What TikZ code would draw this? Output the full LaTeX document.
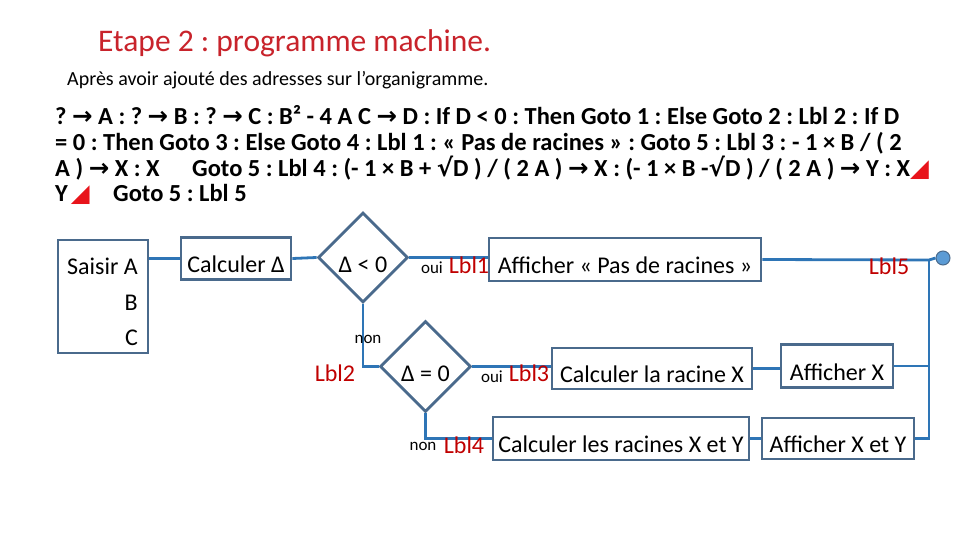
\documentclass[tikz,border=0pt]{standalone}
\usepackage{fontspec}
\setmainfont{Carlito}
\newfontfamily\symf{DejaVu Sans}
\usetikzlibrary{shapes.geometric}
\definecolor{boxc}{HTML}{4A6A8C}
\definecolor{linec}{HTML}{2E75B6}
\definecolor{lblred}{HTML}{C00000}
\definecolor{titred}{HTML}{C8232B}
\definecolor{dotc}{HTML}{5B9BD5}
\definecolor{trired}{HTML}{E8141B}
\newcommand{\myarr}{{\symf\bfseries →}}
\newcommand{\mysqrt}{{\symf √}}
\newcommand{\mytri}{{\symf\color{trired}◢}}
\tikzset{
  flowbox/.style={draw=boxc, line width=2.8pt, rectangle, inner sep=0pt, text height=28pt, text depth=0pt, font=\fontsize{24}{28}\selectfont},
  decision/.style={draw=boxc, line width=2.8pt, diamond, aspect=1, inner sep=0pt, text height=30pt, text depth=0pt, minimum width=90pt, minimum height=90pt, font=\fontsize{24}{28}\selectfont},
  conn/.style={draw=linec, line width=2.8pt},
  lbl/.style={text=lblred, inner sep=0pt, font=\fontsize{24}{28}\selectfont},
  small/.style={inner sep=0pt, font=\fontsize{17}{20}\selectfont},
  plain/.style={inner sep=0pt, font=\fontsize{24}{28}\selectfont},
  prog/.style={inner sep=0pt, anchor=base west, font=\fontsize{24.5}{28}\selectfont\bfseries},
}
\begin{document}
\frenchspacing
\begin{tikzpicture}[x=1pt, y=-1pt]
\useasboundingbox (0,0) rectangle (960,540);
% headings
\node[anchor=base west, inner sep=0pt, text=titred, font=\fontsize{31.5}{36}\selectfont] (title) at (98,52) {Etape 2 : programme machine.};
\node[anchor=base west, inner sep=0pt, font=\fontsize{20}{24}\selectfont] (sub) at (67,86) {Après avoir ajouté des adresses sur l’organigramme.};
% program text
\node[prog] (p1) at (55,125) {? \myarr{} A : ? \myarr{} B : ? \myarr{} C : B² - 4 A C \myarr{} D : If D < 0 : Then Goto 1 : Else Goto 2 : Lbl 2 : If D};
\node[prog] (p2) at (55,150.5) {= 0 : Then Goto 3 : Else Goto 4 : Lbl 1 : « Pas de racines » : Goto 5 : Lbl 3 : - 1 × B / ( 2};
\node[prog] (p3a) at (55,176) {A ) \myarr{} X : X};
\node[prog] (p3b) at (192,176) {Goto 5 : Lbl 4 : (- 1 × B + \mysqrt D ) / ( 2 A ) \myarr{} X : (- 1 × B -\mysqrt D ) / ( 2 A ) \myarr{} Y : X\mytri};
\node[prog] (p4a) at (55,201.5) {Y\hspace{3pt}\mytri};
\node[prog] (p4b) at (113,201.5) {Goto 5 : Lbl 5};
% flowchart boxes
\node[flowbox, minimum width=90pt, minimum height=113pt] (saisir) at (103,296.5) {};
\node[plain, anchor=base west] (tA) at (67,274) {Saisir A};
\node[plain, anchor=base east] (tB) at (138,310) {B};
\node[plain, anchor=base east] (tC) at (138,345) {C};
\node[flowbox, minimum width=110pt, minimum height=42pt] (calc) at (236,258.5) {Calculer Δ};
\node[decision] (d1) at (363,257.5) {Δ < 0};
\node[flowbox, minimum width=272pt, minimum height=43pt] (pas) at (625,259.5) {Afficher « Pas de racines »};
\node[decision, minimum width=91pt, minimum height=91pt] (d2) at (425.5,366.5) {Δ = 0};
\node[flowbox, minimum width=200pt, minimum height=41pt] (racX) at (652,368.5) {Calculer la racine X};
\node[flowbox, minimum width=112pt, minimum height=43pt] (afX) at (837,366) {Afficher X};
\node[flowbox, minimum width=256pt, minimum height=43pt] (racXY) at (621,438.5) {Calculer les racines X et Y};
\node[flowbox, minimum width=152pt, minimum height=41pt] (afXY) at (838,438.5) {Afficher X et Y};
\node[circle, fill=dotc, draw=boxc, line width=1pt, minimum size=14pt, inner sep=0pt] (fin) at (943,258) {};
\coordinate (vx) at (929,260);
% connectors
\draw[conn] (saisir.east |- calc.west) -- (calc.west);
\draw[conn] (calc.east) -- (d1.west);
\draw[conn] (d1.east) -- (d1.east -| pas.west);
\draw[conn] (pas.east) -- (vx) -- (fin.west);
\draw[conn] (d1.south) |- (d2.west);
\draw[conn] (d2.east) -- (d2.east -| racX.west);
\draw[conn] (d2.south) |- (racXY.west);
\draw[conn] (racX.east) -- (racX.east -| afX.west);
\draw[conn] (racXY.east) -- (racXY.east -| afXY.west);
\draw[conn] (afX.east) -- (afX.east -| vx);
\draw[conn] (vx) -- (vx |- afXY.east) -- (afXY.east);
% labels
\node[small] (oui1) at (432,268) {oui};
\node[lbl] (l1) at (469,265) {Lbl1};
\node[small] (non1) at (368,339) {non};
\node[lbl] (l2) at (335,373) {Lbl2};
\node[small] (oui2) at (492,377) {oui};
\node[lbl] (l3) at (529,373) {Lbl3};
\node[small] (non2) at (423,446) {non};
\node[lbl] (l4) at (464,445) {Lbl4};
\node[lbl] (l5) at (889,266) {Lbl5};
\end{tikzpicture}
\end{document}
